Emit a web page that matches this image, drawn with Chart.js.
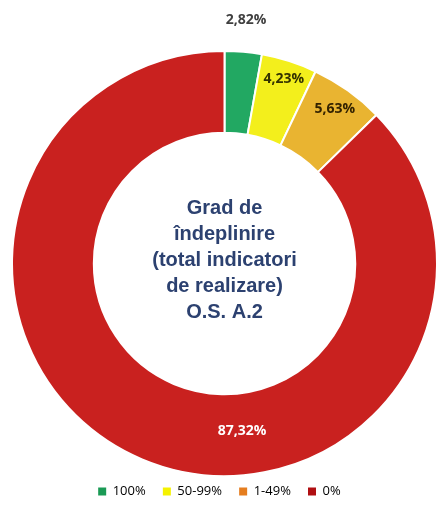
<!DOCTYPE html>
<html>
<head>
<meta charset="utf-8">
<script src="https://cdn.jsdelivr.net/npm/chart.js@4.4.1/dist/chart.umd.min.js"></script>
<style>
  html, body { margin: 0; padding: 0; background: #fff; }
  #wrap { width: 438px; height: 508px; position: relative; }
</style>
</head>
<body>
<div id="wrap"><canvas id="gradChart"></canvas></div>
<script>
// categories and values (percent of indicators)
const categories = ['100%', '50-99%', '1-49%', '0%'];
const shares = [2.82, 4.23, 5.63, 87.32];
const sliceColors = ['#22a862', '#f3ef1c', '#e9b431', '#c9211f'];
const legendColors = ['#1a9a55', '#f5f200', '#e57d1f', '#b00f12'];
const centerLines = ['Grad de', 'îndeplinire', '(total indicatori', 'de realizare)', 'O.S. A.2'];

// label placement: radius from center and optional angle override (deg from top, clockwise)
const labelStyle = [
    { r: 244, color: '#404040' },
    { r: 194, color: '#333300' },
    { r: 190, color: '#332200' },
    { r: 168, angle: 174, color: '#ffffff' }
];

const fmt = v => v.toFixed(2).replace('.', ',') + '%';

const sliceLabels = {
    id: 'sliceLabels',
    afterDatasetsDraw(chart) {
        const ctx = chart.ctx;
        const meta = chart.getDatasetMeta(0);
        ctx.save();
        ctx.font = 'bold 14px "Open Sans", "Liberation Sans", sans-serif';
        ctx.textAlign = 'center';
        ctx.textBaseline = 'middle';
        meta.data.forEach((arc, i) => {
            const p = arc.getProps(['x', 'y', 'startAngle', 'endAngle'], true);
            const st = labelStyle[i];
            let a = (p.startAngle + p.endAngle) / 2;
            if (st.angle !== undefined) a = (st.angle - 90) * Math.PI / 180;
            const x = p.x + Math.cos(a) * st.r;
            const y = p.y + Math.sin(a) * st.r;
            ctx.fillStyle = st.color;
            ctx.fillText(fmt(shares[i]), x, y);
        });
        ctx.restore();
    }
};

const centerText = {
    id: 'centerText',
    afterDatasetsDraw(chart) {
        const ctx = chart.ctx;
        const arc = chart.getDatasetMeta(0).data[0];
        const cx = arc.x, cy = arc.y;
        ctx.save();
        ctx.font = 'bold 20px "Liberation Sans", Arial, sans-serif';
        ctx.fillStyle = '#2c4170';
        ctx.textAlign = 'center';
        ctx.textBaseline = 'middle';
        const lh = 26;
        const top = cy - 3 - lh * (centerLines.length - 1) / 2;
        centerLines.forEach((t, i) => ctx.fillText(t, cx, top + i * lh));
        ctx.restore();
    }
};

new Chart(document.getElementById('gradChart'), {
    type: 'doughnut',
    data: {
        labels: categories,
        datasets: [{
            data: shares,
            backgroundColor: sliceColors,
            borderColor: '#ffffff',
            borderWidth: 2
        }]
    },
    options: {
        responsive: true,
        maintainAspectRatio: false,
        animation: false,
        cutout: '61.5%',
        layout: { padding: { top: 49, left: 11, right: 0, bottom: 0 } },
        plugins: {
            tooltip: { enabled: false },
            legend: {
                position: 'bottom',
                labels: {
                    boxWidth: 8,
                    boxHeight: 8,
                    padding: 7,
                    color: '#595959',
                    font: { family: '"Open Sans", "Liberation Sans", sans-serif', size: 13 },
                    generateLabels: chart => categories.map((c, i) => ({
                        text: c + '   ',
                        fillStyle: legendColors[i],
                        strokeStyle: legendColors[i],
                        lineWidth: 0,
                        index: i,
                        hidden: false
                    }))
                }
            }
        }
    },
    plugins: [sliceLabels, centerText]
});
</script>
</body>
</html>
